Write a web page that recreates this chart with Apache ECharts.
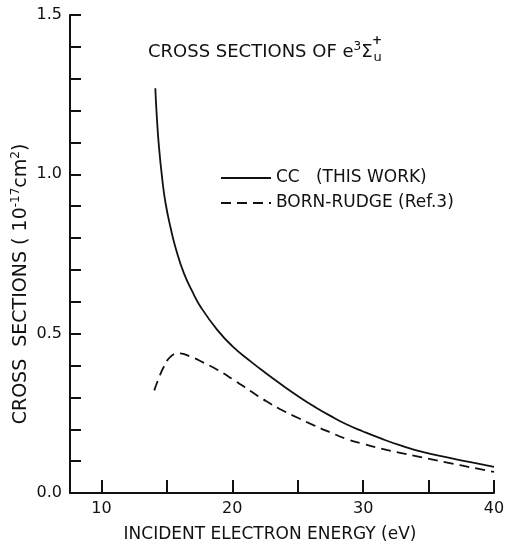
<!DOCTYPE html>
<html>
<head>
<meta charset="utf-8">
<script src="https://cdn.jsdelivr.net/npm/echarts@6.0.0/dist/echarts.min.js"></script>
<style>
  html, body { margin: 0; padding: 0; background: #fff; }
  #chart { width: 506px; height: 545px; }
</style>
</head>
<body>
<div id="chart"></div>
<script>
// CC (this work)
var ccEnergy = [14.12, 14.22, 14.39, 14.65, 14.9, 15.3, 15.7, 16.3, 17.0, 17.6, 18.85, 20.0, 21.4, 22.6, 23.9, 25.2, 26.2, 27.5, 28.8, 30.0, 31.3, 32.8, 34.6, 36.6, 38.4, 40.0];
var ccValues = [1.27, 1.19, 1.09, 0.985, 0.91, 0.83, 0.765, 0.69, 0.628, 0.583, 0.512, 0.461, 0.413, 0.375, 0.336, 0.299, 0.273, 0.242, 0.214, 0.193, 0.172, 0.15, 0.128, 0.11, 0.095, 0.082];
// Born-Rudge (Ref. 3)
var brEnergy = [14.04, 14.4, 14.78, 15.29, 15.92, 16.81, 17.8, 18.85, 20.0, 21.39, 22.4, 23.67, 25.0, 26.2, 27.5, 28.76, 30.0, 31.3, 32.83, 34.6, 36.62, 38.4, 40.0];
var brValues = [0.322, 0.362, 0.397, 0.428, 0.438, 0.428, 0.409, 0.387, 0.358, 0.32, 0.293, 0.263, 0.236, 0.213, 0.19, 0.169, 0.154, 0.14, 0.126, 0.111, 0.094, 0.079, 0.066];

var xTicks = [10, 15, 20, 25, 30, 35, 40];
var xLabels = [10, 20, 30, 40];
var yLabels = [0, 0.5, 1.0, 1.5];

function pairs(xs, ys) {
  return xs.map(function (x, i) { return [x, ys[i]]; });
}

var ink = '#111';
var font = 'DejaVu Sans';

var chart = echarts.init(document.getElementById('chart'));
chart.setOption({
  backgroundColor: '#fff',
  animation: false,
  textStyle: { fontFamily: font, color: ink },
  title: {
    left: 143,
    top: 36,
    text: '{a|CROSS SECTIONS OF e}{sup|3}{a|Σ}{sub|u}',
    textStyle: {
      rich: {
        a: { fontFamily: font, fontSize: 18, fontWeight: 'normal', color: ink },
        sup: { fontFamily: font, fontSize: 12, fontWeight: 'normal', color: ink, padding: [0, 0, 11, 0] },
        sub: { fontFamily: font, fontSize: 13, fontWeight: 'normal', color: ink, padding: [10, 0, 0, 1] }
      }
    }
  },
  graphic: [{
    type: 'text',
    left: 372,
    top: 35,
    style: { text: '+', fontFamily: font, fontSize: 12, fill: ink, fontWeight: 'bold' }
  }, {
    // y axis title, placed where the original has it
    type: 'text',
    x: 21,
    y: 284,
    rotation: Math.PI / 2,
    style: {
      text: 'CROSS  SECTIONS ( 10{sup|-17}cm{sup|2})',
      fontFamily: font, fontSize: 19, fill: ink,
      align: 'center', verticalAlign: 'middle',
      rich: {
        sup: { fontFamily: font, fontSize: 12, fill: ink, padding: [0, 0, 10, 0] }
      }
    }
  }, {
    type: 'text',
    x: 270,
    y: 535,
    style: {
      text: 'INCIDENT ELECTRON ENERGY (eV)',
      fontFamily: font, fontSize: 17, fill: ink,
      align: 'center', verticalAlign: 'middle'
    }
  }],
  legend: {
    orient: 'vertical',
    left: 215,
    top: 164,
    itemWidth: 50,
    itemHeight: 18,
    itemGap: 7,
    itemStyle: { opacity: 0 },
    textStyle: { fontFamily: font, fontSize: 17, lineHeight: 18, color: ink },
    data: ['CC   (THIS WORK)', 'BORN-RUDGE (Ref.3)']
  },
  grid: {
    left: 70, right: 12, top: 15, bottom: 52,
    outerBoundsMode: 'none'
  },
  xAxis: {
    type: 'value',
    min: 7.6,
    max: 40,
    axisLine: { lineStyle: { color: ink, width: 2 } },
    axisTick: { inside: true, length: 13, customValues: xTicks, lineStyle: { color: ink, width: 2 } },
    axisLabel: { customValues: xLabels, margin: 8, fontFamily: font, fontSize: 16, color: ink },
    splitLine: { show: false }
  },
  yAxis: {
    type: 'value',
    min: 0,
    max: 1.5,
    interval: 0.1,
    axisLine: { show: true, lineStyle: { color: ink, width: 2 } },
    axisTick: { show: true, inside: true, length: 11, lineStyle: { color: ink, width: 2 } },
    axisLabel: {
      customValues: yLabels,
      margin: 8,
      fontFamily: font, fontSize: 16, color: ink,
      formatter: function (v) { return v.toFixed(1); }
    },
    splitLine: { show: false }
  },
  series: [{
    name: 'CC   (THIS WORK)',
    type: 'line',
    smooth: 0.5,
    symbol: 'none',
    lineStyle: { color: ink, width: 1.8 },
    itemStyle: { color: ink },
    data: pairs(ccEnergy, ccValues)
  }, {
    name: 'BORN-RUDGE (Ref.3)',
    type: 'line',
    smooth: 0.5,
    symbol: 'none',
    lineStyle: { color: ink, width: 1.8, type: [10, 6] },
    itemStyle: { color: ink },
    data: pairs(brEnergy, brValues)
  }]
});
</script>
</body>
</html>
